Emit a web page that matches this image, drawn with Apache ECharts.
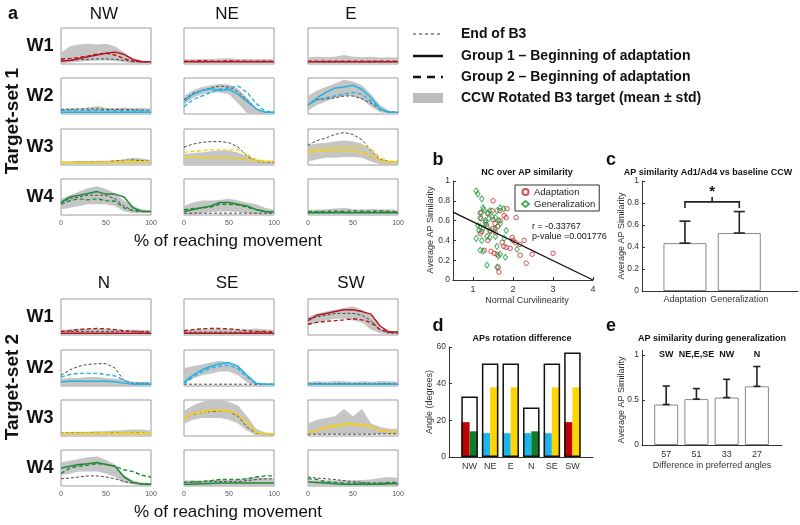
<!DOCTYPE html>
<html lang="en">
<head>
  <meta charset="utf-8">
</head>
<body style="margin: 0; background: #fff">
  <div id="container" style="width: 800px; height: 525px"></div>

  <script type="text/javascript" src="https://cdn.jsdelivr.net/npm/echarts@6/dist/echarts.min.js"></script>

  <script type="text/javascript">
    // ---- panel a: EMG envelopes, % of reaching movement (one row per muscle W1..W4)
    const pct = [0, 10, 20, 30, 40, 50, 60, 70, 80, 90, 100];
    const muscles = ['W1', 'W2', 'W3', 'W4'];
    const set1Dirs = ['NW', 'NE', 'E'];
    const set2Dirs = ['N', 'SE', 'SW'];

    const endB3_NW = [
      [0.10, 0.10, 0.12, 0.13, 0.14, 0.14, 0.13, 0.10, 0.07, 0.06, 0.06],
      [0.13, 0.13, 0.14, 0.14, 0.14, 0.13, 0.13, 0.12, 0.12, 0.11, 0.10],
      [0.07, 0.07, 0.08, 0.08, 0.08, 0.09, 0.11, 0.13, 0.14, 0.12, 0.10],
      [0.35, 0.45, 0.50, 0.55, 0.55, 0.55, 0.45, 0.25, 0.12, 0.10, 0.10]
    ];
    const g1_NW = [
      [0.08, 0.10, 0.15, 0.20, 0.25, 0.30, 0.33, 0.27, 0.12, 0.06, 0.06],
      [0.05, 0.05, 0.05, 0.05, 0.05, 0.05, 0.05, 0.05, 0.05, 0.05, 0.05],
      [0.06, 0.06, 0.06, 0.07, 0.07, 0.07, 0.07, 0.08, 0.08, 0.08, 0.08],
      [0.35, 0.50, 0.55, 0.60, 0.65, 0.58, 0.58, 0.50, 0.20, 0.10, 0.10]
    ];
    const g2_NW = [
      [0.14, 0.15, 0.18, 0.22, 0.27, 0.30, 0.25, 0.15, 0.07, 0.06, 0.06],
      [0.10, 0.10, 0.10, 0.10, 0.10, 0.10, 0.09, 0.09, 0.09, 0.09, 0.09],
      [0.08, 0.08, 0.08, 0.08, 0.08, 0.09, 0.10, 0.11, 0.12, 0.10, 0.09],
      [0.30, 0.40, 0.45, 0.42, 0.45, 0.40, 0.38, 0.20, 0.12, 0.10, 0.10]
    ];
    const lo_NW = [
      [0.02, 0.04, 0.06, 0.08, 0.10, 0.10, 0.08, 0.05, 0.02, 0.02, 0.02],
      [0.02, 0.02, 0.02, 0.02, 0.02, 0.02, 0.02, 0.02, 0.02, 0.02, 0.02],
      [0.02, 0.02, 0.02, 0.02, 0.02, 0.02, 0.03, 0.03, 0.03, 0.03, 0.03],
      [0.15, 0.20, 0.25, 0.30, 0.30, 0.30, 0.25, 0.10, 0.05, 0.05, 0.05]
    ];
    const hi_NW = [
      [0.31, 0.49, 0.54, 0.56, 0.54, 0.56, 0.49, 0.31, 0.17, 0.10, 0.08],
      [0.14, 0.16, 0.15, 0.18, 0.22, 0.17, 0.16, 0.18, 0.16, 0.17, 0.15],
      [0.10, 0.10, 0.11, 0.11, 0.12, 0.12, 0.13, 0.16, 0.20, 0.18, 0.14],
      [0.45, 0.55, 0.65, 0.75, 0.80, 0.72, 0.60, 0.40, 0.25, 0.15, 0.12]
    ];

    const endB3_NE = [
      [0.07, 0.07, 0.07, 0.07, 0.07, 0.07, 0.07, 0.07, 0.07, 0.07, 0.07],
      [0.40, 0.58, 0.65, 0.72, 0.78, 0.75, 0.62, 0.40, 0.15, 0.05, 0.05],
      [0.50, 0.58, 0.63, 0.65, 0.65, 0.62, 0.50, 0.25, 0.10, 0.08, 0.08],
      [0.05, 0.05, 0.05, 0.05, 0.05, 0.05, 0.05, 0.05, 0.05, 0.05, 0.05]
    ];
    const g1_NE = [
      [0.06, 0.06, 0.06, 0.06, 0.06, 0.06, 0.06, 0.06, 0.06, 0.06, 0.06],
      [0.35, 0.55, 0.65, 0.70, 0.65, 0.68, 0.55, 0.35, 0.15, 0.05, 0.05],
      [0.20, 0.22, 0.20, 0.20, 0.20, 0.20, 0.18, 0.15, 0.12, 0.10, 0.10],
      [0.10, 0.15, 0.20, 0.25, 0.35, 0.35, 0.30, 0.25, 0.15, 0.10, 0.08]
    ];
    const g2_NE = [
      [0.08, 0.08, 0.09, 0.08, 0.08, 0.09, 0.08, 0.08, 0.08, 0.08, 0.08],
      [0.20, 0.40, 0.50, 0.60, 0.70, 0.72, 0.78, 0.60, 0.30, 0.08, 0.05],
      [0.35, 0.38, 0.40, 0.42, 0.42, 0.42, 0.42, 0.30, 0.15, 0.10, 0.10],
      [0.15, 0.18, 0.20, 0.22, 0.30, 0.30, 0.28, 0.22, 0.15, 0.10, 0.08]
    ];
    const lo_NE = [
      [0.02, 0.02, 0.02, 0.02, 0.02, 0.02, 0.02, 0.02, 0.02, 0.02, 0.02],
      [0.25, 0.45, 0.55, 0.60, 0.60, 0.55, 0.30, 0.02, 0.00, 0.00, 0.00],
      [0.01, 0.01, 0.01, 0.01, 0.01, 0.01, 0.01, 0.01, 0.01, 0.01, 0.01],
      [0.00, 0.00, 0.05, 0.08, 0.10, 0.10, 0.08, 0.05, 0.02, 0.00, 0.00]
    ];
    const hi_NE = [
      [0.13, 0.13, 0.14, 0.14, 0.15, 0.16, 0.14, 0.14, 0.13, 0.14, 0.13],
      [0.50, 0.65, 0.75, 0.80, 0.83, 0.82, 0.70, 0.45, 0.15, 0.05, 0.05],
      [0.30, 0.33, 0.35, 0.38, 0.40, 0.40, 0.35, 0.25, 0.15, 0.12, 0.12],
      [0.25, 0.35, 0.40, 0.40, 0.42, 0.45, 0.40, 0.35, 0.30, 0.20, 0.15]
    ];

    const endB3_E = [
      [0.06, 0.06, 0.06, 0.06, 0.06, 0.06, 0.06, 0.06, 0.06, 0.06, 0.06],
      [0.25, 0.40, 0.42, 0.45, 0.50, 0.50, 0.42, 0.30, 0.12, 0.05, 0.05],
      [0.55, 0.68, 0.75, 0.85, 0.90, 0.85, 0.70, 0.40, 0.15, 0.10, 0.10],
      [0.08, 0.08, 0.08, 0.08, 0.08, 0.08, 0.08, 0.08, 0.08, 0.08, 0.08]
    ];
    const g1_E = [
      [0.06, 0.06, 0.06, 0.06, 0.06, 0.06, 0.06, 0.06, 0.06, 0.06, 0.06],
      [0.25, 0.45, 0.60, 0.72, 0.75, 0.80, 0.68, 0.45, 0.15, 0.05, 0.05],
      [0.35, 0.38, 0.40, 0.40, 0.42, 0.38, 0.35, 0.25, 0.12, 0.08, 0.08],
      [0.06, 0.06, 0.06, 0.06, 0.06, 0.06, 0.06, 0.06, 0.06, 0.06, 0.06]
    ];
    const g2_E = [
      [0.08, 0.08, 0.08, 0.08, 0.08, 0.08, 0.08, 0.08, 0.08, 0.08, 0.08],
      [0.25, 0.40, 0.45, 0.50, 0.55, 0.60, 0.55, 0.35, 0.12, 0.05, 0.05],
      [0.40, 0.45, 0.48, 0.50, 0.50, 0.50, 0.55, 0.45, 0.20, 0.10, 0.10],
      [0.10, 0.09, 0.10, 0.11, 0.10, 0.12, 0.11, 0.10, 0.12, 0.10, 0.09]
    ];
    const lo_E = [
      [0.02, 0.02, 0.02, 0.02, 0.02, 0.02, 0.02, 0.02, 0.02, 0.02, 0.02],
      [0.10, 0.25, 0.35, 0.45, 0.50, 0.50, 0.40, 0.20, 0.05, 0.02, 0.00],
      [0.10, 0.15, 0.20, 0.20, 0.22, 0.22, 0.20, 0.10, 0.02, 0.00, 0.00],
      [0.02, 0.02, 0.02, 0.02, 0.02, 0.02, 0.02, 0.02, 0.02, 0.02, 0.02]
    ];
    const hi_E = [
      [0.18, 0.20, 0.19, 0.20, 0.25, 0.20, 0.19, 0.20, 0.18, 0.19, 0.18],
      [0.50, 0.65, 0.75, 0.85, 0.95, 0.90, 0.80, 0.55, 0.25, 0.10, 0.05],
      [0.55, 0.60, 0.62, 0.65, 0.68, 0.65, 0.60, 0.40, 0.15, 0.10, 0.10],
      [0.14, 0.15, 0.16, 0.18, 0.20, 0.16, 0.15, 0.17, 0.15, 0.16, 0.14]
    ];

    const endB3_N = [
      [0.10, 0.10, 0.10, 0.10, 0.10, 0.10, 0.10, 0.10, 0.10, 0.10, 0.10],
      [0.30, 0.45, 0.55, 0.60, 0.62, 0.62, 0.50, 0.15, 0.08, 0.08, 0.08],
      [0.08, 0.08, 0.08, 0.08, 0.08, 0.08, 0.08, 0.08, 0.08, 0.08, 0.08],
      [0.20, 0.22, 0.25, 0.28, 0.28, 0.25, 0.20, 0.12, 0.08, 0.06, 0.06]
    ];
    const g1_N = [
      [0.05, 0.05, 0.05, 0.05, 0.05, 0.05, 0.05, 0.05, 0.05, 0.05, 0.05],
      [0.12, 0.13, 0.13, 0.13, 0.13, 0.13, 0.12, 0.08, 0.05, 0.05, 0.05],
      [0.06, 0.06, 0.06, 0.06, 0.06, 0.06, 0.06, 0.06, 0.06, 0.06, 0.06],
      [0.50, 0.55, 0.60, 0.62, 0.65, 0.60, 0.55, 0.25, 0.10, 0.05, 0.05]
    ];
    const g2_N = [
      [0.10, 0.12, 0.15, 0.17, 0.18, 0.17, 0.15, 0.12, 0.10, 0.08, 0.08],
      [0.25, 0.32, 0.35, 0.35, 0.35, 0.32, 0.28, 0.15, 0.08, 0.08, 0.08],
      [0.07, 0.07, 0.08, 0.08, 0.09, 0.09, 0.09, 0.10, 0.10, 0.09, 0.09],
      [0.35, 0.50, 0.55, 0.58, 0.62, 0.60, 0.55, 0.45, 0.40, 0.30, 0.25]
    ];
    const lo_N = [
      [0.02, 0.02, 0.02, 0.02, 0.02, 0.02, 0.02, 0.02, 0.02, 0.02, 0.02],
      [0.00, 0.00, 0.00, 0.00, 0.00, 0.00, 0.00, 0.00, 0.00, 0.00, 0.00],
      [0.02, 0.02, 0.02, 0.02, 0.02, 0.02, 0.02, 0.02, 0.02, 0.02, 0.02],
      [0.30, 0.35, 0.40, 0.40, 0.40, 0.35, 0.25, 0.10, 0.05, 0.02, 0.00]
    ];
    const hi_N = [
      [0.14, 0.16, 0.18, 0.17, 0.18, 0.16, 0.15, 0.14, 0.15, 0.14, 0.13],
      [0.20, 0.22, 0.22, 0.25, 0.25, 0.22, 0.20, 0.15, 0.12, 0.10, 0.10],
      [0.10, 0.11, 0.12, 0.12, 0.13, 0.14, 0.15, 0.16, 0.18, 0.18, 0.15],
      [0.65, 0.70, 0.75, 0.80, 0.82, 0.72, 0.60, 0.30, 0.15, 0.10, 0.08]
    ];

    const endB3_SE = [
      [0.08, 0.08, 0.08, 0.08, 0.08, 0.08, 0.08, 0.08, 0.08, 0.08, 0.08],
      [0.05, 0.05, 0.05, 0.05, 0.05, 0.05, 0.05, 0.05, 0.05, 0.05, 0.05],
      [0.50, 0.60, 0.65, 0.68, 0.70, 0.68, 0.55, 0.25, 0.08, 0.06, 0.06],
      [0.10, 0.10, 0.12, 0.12, 0.12, 0.12, 0.12, 0.15, 0.18, 0.20, 0.20]
    ];
    const g1_SE = [
      [0.05, 0.05, 0.05, 0.05, 0.05, 0.05, 0.05, 0.05, 0.05, 0.05, 0.05],
      [0.10, 0.30, 0.45, 0.55, 0.62, 0.65, 0.55, 0.30, 0.08, 0.05, 0.05],
      [0.50, 0.62, 0.68, 0.72, 0.72, 0.70, 0.60, 0.35, 0.10, 0.06, 0.06],
      [0.05, 0.05, 0.06, 0.07, 0.08, 0.08, 0.08, 0.08, 0.08, 0.08, 0.08]
    ];
    const g2_SE = [
      [0.12, 0.15, 0.17, 0.18, 0.18, 0.17, 0.15, 0.12, 0.10, 0.10, 0.08],
      [0.05, 0.25, 0.40, 0.50, 0.55, 0.58, 0.48, 0.25, 0.07, 0.05, 0.05],
      [0.50, 0.60, 0.65, 0.70, 0.70, 0.68, 0.60, 0.35, 0.10, 0.06, 0.06],
      [0.10, 0.12, 0.12, 0.15, 0.18, 0.18, 0.18, 0.20, 0.25, 0.28, 0.28]
    ];
    const lo_SE = [
      [0.02, 0.02, 0.02, 0.02, 0.02, 0.02, 0.02, 0.02, 0.02, 0.02, 0.02],
      [0.10, 0.20, 0.30, 0.35, 0.40, 0.40, 0.30, 0.10, 0.02, 0.00, 0.00],
      [0.35, 0.45, 0.50, 0.50, 0.50, 0.45, 0.35, 0.15, 0.02, 0.00, 0.00],
      [0.00, 0.00, 0.00, 0.00, 0.00, 0.00, 0.00, 0.00, 0.00, 0.00, 0.00]
    ];
    const hi_SE = [
      [0.14, 0.15, 0.15, 0.16, 0.17, 0.16, 0.15, 0.16, 0.18, 0.16, 0.14],
      [0.50, 0.55, 0.60, 0.65, 0.70, 0.65, 0.55, 0.30, 0.10, 0.05, 0.05],
      [0.70, 0.85, 0.95, 1.00, 1.00, 0.95, 0.85, 0.55, 0.20, 0.10, 0.08],
      [0.15, 0.16, 0.15, 0.17, 0.18, 0.17, 0.18, 0.22, 0.25, 0.22, 0.20]
    ];

    const endB3_SW = [
      [0.45, 0.50, 0.55, 0.60, 0.60, 0.60, 0.55, 0.40, 0.15, 0.05, 0.05],
      [0.07, 0.07, 0.07, 0.07, 0.07, 0.07, 0.07, 0.07, 0.07, 0.07, 0.07],
      [0.05, 0.05, 0.05, 0.05, 0.05, 0.05, 0.05, 0.05, 0.06, 0.06, 0.06],
      [0.25, 0.22, 0.20, 0.18, 0.15, 0.12, 0.10, 0.08, 0.08, 0.08, 0.08]
    ];
    const g1_SW = [
      [0.40, 0.55, 0.60, 0.65, 0.70, 0.70, 0.65, 0.58, 0.25, 0.08, 0.08],
      [0.05, 0.05, 0.05, 0.05, 0.05, 0.05, 0.05, 0.05, 0.05, 0.05, 0.05],
      [0.10, 0.15, 0.25, 0.30, 0.35, 0.35, 0.30, 0.28, 0.15, 0.12, 0.12],
      [0.12, 0.10, 0.08, 0.06, 0.05, 0.05, 0.05, 0.05, 0.05, 0.06, 0.06]
    ];
    const g2_SW = [
      [0.30, 0.35, 0.38, 0.40, 0.42, 0.45, 0.42, 0.35, 0.15, 0.08, 0.08],
      [0.06, 0.06, 0.06, 0.06, 0.06, 0.06, 0.06, 0.06, 0.06, 0.06, 0.06],
      [0.10, 0.15, 0.22, 0.25, 0.28, 0.30, 0.28, 0.25, 0.15, 0.12, 0.12],
      [0.20, 0.18, 0.12, 0.10, 0.08, 0.08, 0.08, 0.08, 0.08, 0.10, 0.10]
    ];
    const lo_SW = [
      [0.25, 0.35, 0.40, 0.45, 0.45, 0.40, 0.35, 0.15, 0.05, 0.02, 0.02],
      [0.02, 0.02, 0.02, 0.02, 0.02, 0.02, 0.02, 0.02, 0.02, 0.02, 0.02],
      [0.05, 0.05, 0.05, 0.05, 0.05, 0.05, 0.05, 0.05, 0.05, 0.05, 0.05],
      [0.00, 0.00, 0.00, 0.00, 0.00, 0.00, 0.00, 0.00, 0.00, 0.00, 0.00]
    ];
    const hi_SW = [
      [0.50, 0.60, 0.65, 0.70, 0.75, 0.80, 0.70, 0.55, 0.20, 0.10, 0.08],
      [0.12, 0.13, 0.12, 0.14, 0.13, 0.12, 0.13, 0.12, 0.14, 0.13, 0.12],
      [0.35, 0.45, 0.50, 0.55, 0.75, 0.55, 0.75, 0.35, 0.25, 0.20, 0.20],
      [0.16, 0.15, 0.15, 0.16, 0.15, 0.16, 0.17, 0.18, 0.22, 0.25, 0.22]
    ];

    // ---- panel b: NC vs AP similarity
    const adaptPts = [
      [1.50, 0.80], [1.85, 0.72], [1.78, 0.65], [1.83, 0.63], [2.08, 0.63], [1.48, 0.70],
      [1.67, 0.70], [1.37, 0.67], [1.18, 0.68], [1.20, 0.62], [1.50, 0.61], [1.55, 0.57],
      [1.62, 0.54], [1.50, 0.52], [1.43, 0.49], [1.56, 0.48], [1.22, 0.49], [1.18, 0.47],
      [1.98, 0.43], [2.00, 0.40], [2.06, 0.38], [1.83, 0.33], [1.93, 0.32], [2.17, 0.36],
      [2.28, 0.40], [2.18, 0.25], [2.33, 0.17], [2.48, 0.26], [3.00, 0.27], [1.37, 0.40],
      [1.28, 0.30], [1.45, 0.29], [1.53, 0.27], [1.60, 0.26], [1.63, 0.13], [1.65, 0.08],
      [1.73, 0.38], [1.77, 0.34], [1.33, 0.56], [1.68, 0.60]
    ];
    const genPts = [
      [1.08, 0.90], [1.12, 0.87], [1.22, 0.82], [1.25, 0.73], [1.27, 0.71], [1.21, 0.68],
      [1.37, 0.68], [1.42, 0.70], [1.60, 0.70], [1.68, 0.73], [1.77, 0.72], [1.18, 0.63],
      [1.31, 0.60], [1.39, 0.62], [1.56, 0.63], [1.64, 0.60], [1.48, 0.64], [1.12, 0.55],
      [1.18, 0.54], [1.25, 0.52], [1.35, 0.54], [1.43, 0.50], [1.56, 0.52], [1.68, 0.57],
      [1.83, 0.50], [1.08, 0.42], [1.22, 0.40], [1.35, 0.44], [1.42, 0.43], [1.60, 0.34],
      [1.78, 0.42], [1.18, 0.30], [1.25, 0.29], [1.63, 0.24], [1.68, 0.26], [1.81, 0.23],
      [1.35, 0.15], [1.60, 0.13], [2.10, 0.31], [1.31, 0.58], [1.15, 0.50], [1.56, 0.44]
    ];
    const regLine = [[0.5, 0.685], [4, 0.0]];
    const statLines = ['r = -0.33767', 'p-value =0.001776'];

    // ---- panel c
    const cCats = ['Adaptation', 'Generalization'];
    const cMean = [0.435, 0.527];
    const cUpper = [0.635, 0.722];
    const cSig = [1, 2, 0.81];

    // ---- panel d
    const dCats = ['NW', 'NE', 'E', 'N', 'SE', 'SW'];
    const dTotal = [33, 51, 51, 27, 51, 57];
    const dLeft = [19, 13, 13, 13, 13, 19];
    const dRight = [14, 38, 38, 14, 38, 38];
    const dLeftMuscle = ['W1', 'W2', 'W2', 'W2', 'W2', 'W1'];
    const dRightMuscle = ['W4', 'W3', 'W3', 'W4', 'W3', 'W3'];

    // ---- panel e
    const eCats = ['57', '51', '33', '27'];
    const eGroups = ['SW', 'NE,E,SE', 'NW', 'N'];
    const eMean = [0.45, 0.51, 0.527, 0.652];
    const eUpper = [0.655, 0.627, 0.73, 0.872];

    // ---------------------------------------------------------------
    const FONT = '"Liberation Sans", Arial, sans-serif';
    const muscleColor = { W1: '#b7141d', W2: '#22b2e4', W3: '#f3cf22', W4: '#1e8a36' };
    const dBarColor = { W1: '#c00000', W2: '#1bb6ec', W3: '#ffd500', W4: '#137a2c' };
    const AX = '#333';

    const setData = {
      NW: [endB3_NW, g1_NW, g2_NW, lo_NW, hi_NW],
      NE: [endB3_NE, g1_NE, g2_NE, lo_NE, hi_NE],
      E: [endB3_E, g1_E, g2_E, lo_E, hi_E],
      N: [endB3_N, g1_N, g2_N, lo_N, hi_N],
      SE: [endB3_SE, g1_SE, g2_SE, lo_SE, hi_SE],
      SW: [endB3_SW, g1_SW, g2_SW, lo_SW, hi_SW]
    };

    const colLeft = [61, 184, 308];
    const panelW = 90, panelH = 36;
    const setTops = [[28, 78, 129, 179], [299, 350, 400, 450]];

    const grids = [], xAxes = [], yAxes = [], series = [], graphics = [];

    function txt(x, y, text, size, opts) {
      graphics.push(Object.assign({
        type: 'text', x: x, y: y, silent: true,
        style: Object.assign({
          text: text, fontFamily: FONT, fontSize: size, fill: '#111',
          align: 'center', verticalAlign: 'middle'
        }, (opts && opts.style) || {})
      }, (opts && opts.el) || {}));
    }

    [set1Dirs, set2Dirs].forEach(function (dirs, s) {
      dirs.forEach(function (dir, c) {
        const d = setData[dir];
        muscles.forEach(function (m, r) {
          const gi = grids.length;
          grids.push({
            left: colLeft[c], top: setTops[s][r], width: panelW, height: panelH,
            show: true, borderColor: '#9c9c9c', borderWidth: 1, backgroundColor: '#fff'
          });
          xAxes.push({
            gridIndex: gi, type: 'category', data: pct.map(String), boundaryGap: false,
            axisLine: { show: false }, axisTick: { show: false }, splitLine: { show: false },
            axisLabel: {
              show: r === 3, interval: function (i) { return i % 5 === 0; },
              fontSize: 7, color: '#555', margin: 5, fontFamily: FONT
            }
          });
          yAxes.push({ gridIndex: gi, type: 'value', min: 0, max: 1, show: false });
          const col = muscleColor[m];
          const base = { type: 'line', xAxisIndex: gi, yAxisIndex: gi, symbol: 'none', silent: true };
          series.push(Object.assign({}, base, {
            stack: 'band' + gi, data: d[3][r], lineStyle: { opacity: 0 }
          }));
          series.push(Object.assign({}, base, {
            stack: 'band' + gi, data: d[4][r].map(function (v, k) { return v - d[3][r][k]; }),
            lineStyle: { opacity: 0 }, areaStyle: { color: '#c5c5c5', opacity: 1 }
          }));
          series.push(Object.assign({}, base, {
            data: d[0][r], lineStyle: { color: '#4a4a4a', width: 1, type: [3, 2] }
          }));
          series.push(Object.assign({}, base, {
            data: d[2][r], lineStyle: { color: col, width: 1.4, type: [4, 2.5] }
          }));
          series.push(Object.assign({}, base, {
            data: d[1][r], lineStyle: { color: col, width: 1.5 }
          }));
          if (c === 0) txt(40, setTops[s][r] + panelH / 2, m, 18, { style: { fontWeight: 'bold' } });
        });
        txt(colLeft[c] + panelW / 2 - 2, s === 0 ? 14 : 283, dir, 17);
      });
      txt(228, s === 0 ? 241 : 512, '% of reaching movement', 17);
      txt(13, s === 0 ? 121 : 387, 'Target-set ' + (s + 1), 19,
        { style: { fontWeight: 'bold' }, el: { rotation: Math.PI / 2 } });
    });

    // shared axis styling for b-e
    function valAxis(gi, extra) {
      return Object.assign({
        gridIndex: gi, type: 'value',
        axisLine: { show: true, lineStyle: { color: AX, width: 1 } },
        axisTick: { show: true, inside: true, length: 3, lineStyle: { color: AX } },
        axisLabel: { fontSize: 8.5, color: '#333', fontFamily: FONT, margin: 3 },
        splitLine: { show: false }
      }, extra);
    }

    function errRender(cap) {
      return function (params, api) {
        const x = api.value(0);
        const p0 = api.coord([x, api.value(1)]);
        const p1 = api.coord([x, api.value(2)]);
        const st = { stroke: '#222', lineWidth: 1.6 };
        return {
          type: 'group', children: [
            { type: 'line', shape: { x1: p0[0], y1: p0[1], x2: p1[0], y2: p1[1] }, style: st },
            { type: 'line', shape: { x1: p1[0] - cap, y1: p1[1], x2: p1[0] + cap, y2: p1[1] }, style: st },
            { type: 'line', shape: { x1: p0[0] - cap, y1: p0[1], x2: p0[0] + cap, y2: p0[1] }, style: st }
          ]
        };
      };
    }

    // ---- b
    const gb = grids.length;
    grids.push({ left: 453, top: 181, width: 140, height: 99 });
    xAxes.push(valAxis(gb, {
      min: 0.5, max: 4,
      axisLabel: { fontSize: 9, color: '#333', fontFamily: FONT, margin: 5, customValues: [1, 2, 3, 4] },
      axisTick: { show: true, inside: true, length: 3, lineStyle: { color: AX }, customValues: [1, 2, 3, 4] }
    }));
    yAxes.push(valAxis(gb, { min: 0, max: 1, interval: 0.2 }));
    series.push({
      name: 'Adaptation', type: 'scatter', xAxisIndex: gb, yAxisIndex: gb, data: adaptPts,
      symbol: 'circle', symbolSize: 4.5,
      itemStyle: { color: 'rgba(0,0,0,0)', borderColor: '#c8262c', borderWidth: 1 }
    });
    series.push({
      name: 'Generalization', type: 'scatter', xAxisIndex: gb, yAxisIndex: gb, data: genPts,
      symbol: 'diamond', symbolSize: [4.5, 6],
      itemStyle: { color: 'rgba(0,0,0,0)', borderColor: '#1f9a3c', borderWidth: 1 }
    });
    series.push({
      type: 'line', xAxisIndex: gb, yAxisIndex: gb, data: regLine, symbol: 'none',
      lineStyle: { color: '#111', width: 1.3 }, silent: true
    });
    txt(527, 173, 'NC over AP similarity', 9, { style: { fontWeight: 'bold' } });
    txt(527, 301, 'Normal Curvilinearity', 9, { style: { fill: '#333' } });
    txt(431, 230, 'Average AP Similarity', 9, { style: { fill: '#333' }, el: { rotation: Math.PI / 2 } });
    txt(532, 227, statLines[0], 9, { style: { align: 'left' } });
    txt(532, 237, statLines[1], 9, { style: { align: 'left' } });

    // ---- c
    const gc = grids.length;
    grids.push({ left: 642, top: 181, width: 156, height: 110 });
    xAxes.push(valAxis(gc, {
      min: 0.21, max: 3.08,
      axisTick: { show: false },
      axisLabel: {
        fontSize: 9, color: '#333', fontFamily: FONT, margin: 4, customValues: [1, 2],
        formatter: function (v) { return cCats[Math.round(v) - 1]; }
      }
    }));
    yAxes.push(valAxis(gc, { min: 0, max: 1, interval: 0.2 }));
    series.push({
      type: 'bar', xAxisIndex: gc, yAxisIndex: gc, barWidth: 43, silent: true,
      data: cMean.map(function (v, i) { return [i + 1, v]; }),
      itemStyle: { color: '#fff', borderColor: '#888', borderWidth: 1 }
    });
    series.push({
      type: 'custom', xAxisIndex: gc, yAxisIndex: gc, silent: true, z: 5,
      data: cMean.map(function (v, i) { return [i + 1, v, cUpper[i]]; }),
      renderItem: errRender(5.5)
    });
    series.push({
      type: 'custom', xAxisIndex: gc, yAxisIndex: gc, silent: true, z: 5,
      data: [cSig],
      renderItem: function (params, api) {
        const a = api.coord([api.value(0), api.value(2)]);
        const b = api.coord([api.value(1), api.value(2)]);
        const a2 = api.coord([api.value(0), api.value(2) - 0.055]);
        const mid = (a[0] + b[0]) / 2;
        const st = { stroke: '#222', lineWidth: 1.6 };
        return {
          type: 'group', children: [
            { type: 'polyline', shape: { points: [[a[0], a2[1]], a, b, [b[0], a2[1]]] }, style: Object.assign({ fill: null }, st) },
            { type: 'line', shape: { x1: mid, y1: a[1], x2: mid, y2: a[1] - 5 }, style: st },
            { type: 'text', x: mid, y: a[1] - 10, style: { text: '*', fontSize: 15, fontWeight: 'bold', fontFamily: FONT, fill: '#111', align: 'center', verticalAlign: 'middle' } }
          ]
        };
      }
    });
    txt(708, 173, 'AP similarity Ad1/Ad4 vs baseline CCW', 9, { style: { fontWeight: 'bold' } });
    txt(622, 236, 'Average AP Similarity', 9, { style: { fill: '#333' }, el: { rotation: Math.PI / 2 } });

    // ---- d
    const gd = grids.length;
    grids.push({ left: 449, top: 347, width: 144, height: 110 });
    xAxes.push(valAxis(gd, {
      min: 0, max: 7,
      axisTick: { show: false },
      axisLabel: {
        fontSize: 9, color: '#333', fontFamily: FONT, margin: 5, customValues: [1, 2, 3, 4, 5, 6],
        formatter: function (v) { return dCats[Math.round(v) - 1]; }
      }
    }));
    xAxes.push({ gridIndex: gd, type: 'value', min: 0, max: 7, show: false });
    yAxes.push(valAxis(gd, { min: 0, max: 60, interval: 20 }));
    series.push({
      type: 'bar', xAxisIndex: gd, yAxisIndex: gd, barWidth: 8.25, barGap: '0%', silent: true,
      data: dLeft.map(function (v, i) { return { value: [i + 1, v], itemStyle: { color: dBarColor[dLeftMuscle[i]] } }; })
    });
    series.push({
      type: 'bar', xAxisIndex: gd, yAxisIndex: gd, barWidth: 8.25, barGap: '0%', silent: true,
      data: dRight.map(function (v, i) { return { value: [i + 1, v], itemStyle: { color: dBarColor[dRightMuscle[i]] } }; })
    });
    series.push({
      type: 'bar', xAxisIndex: gd + 1, yAxisIndex: gd, barWidth: 16.5, silent: true, z: 4,
      data: dTotal.map(function (v, i) { return [i + 1, v]; }),
      itemStyle: { color: 'rgba(0,0,0,0)', borderColor: '#111', borderWidth: 1.5 }
    });
    txt(522, 339, 'APs rotation difference', 9, { style: { fontWeight: 'bold' } });
    txt(430, 402, 'Angle (degrees)', 9, { style: { fill: '#333' }, el: { rotation: Math.PI / 2 } });

    // ---- e
    const ge = xAxes.length;
    grids.push({ left: 642, top: 350.5, width: 140, height: 94.5 });
    xAxes.push(valAxis(grids.length - 1, {
      min: 0.2, max: 4.83,
      axisTick: { show: false },
      axisLabel: {
        fontSize: 9, color: '#333', fontFamily: FONT, margin: 5, customValues: [1, 2, 3, 4],
        formatter: function (v) { return eCats[Math.round(v) - 1]; }
      }
    }));
    const gey = yAxes.length;
    yAxes.push(valAxis(grids.length - 1, {
      min: 0, max: 1.05,
      axisLabel: { fontSize: 8.5, color: '#333', fontFamily: FONT, margin: 3, customValues: [0, 0.5, 1] },
      axisTick: { show: true, inside: true, length: 3, lineStyle: { color: AX }, customValues: [0, 0.5, 1] }
    }));
    series.push({
      type: 'bar', xAxisIndex: ge, yAxisIndex: gey, barWidth: 24, silent: true,
      data: eMean.map(function (v, i) { return [i + 1, v]; }),
      itemStyle: { color: '#fff', borderColor: '#888', borderWidth: 1 }
    });
    series.push({
      type: 'custom', xAxisIndex: ge, yAxisIndex: gey, silent: true, z: 5,
      data: eMean.map(function (v, i) { return [i + 1, v, eUpper[i]]; }),
      renderItem: errRender(3.5)
    });
    series.push({
      type: 'custom', xAxisIndex: ge, yAxisIndex: gey, silent: true, z: 5,
      data: eGroups.map(function (g, i) { return [i + 1, 1.0, g]; }),
      renderItem: function (params, api) {
        const p = api.coord([api.value(0), api.value(1)]);
        return {
          type: 'text', x: p[0], y: p[1],
          style: { text: eGroups[params.dataIndex], fontSize: 9, fontWeight: 'bold', fontFamily: FONT, fill: '#111', align: 'center', verticalAlign: 'middle' }
        };
      }
    });
    txt(712, 339, 'AP similarity during generalization', 9, { style: { fontWeight: 'bold' } });
    txt(712, 466, 'Difference in preferred angles', 9, { style: { fill: '#333' } });
    txt(622, 400, 'Average AP Similarity', 9, { style: { fill: '#333' }, el: { rotation: Math.PI / 2 } });

    // ---- panel letters
    txt(13, 14, 'a', 18, { style: { fontWeight: 'bold' } });
    txt(438, 160, 'b', 18, { style: { fontWeight: 'bold' } });
    txt(611, 160, 'c', 18, { style: { fontWeight: 'bold' } });
    txt(438, 326, 'd', 18, { style: { fontWeight: 'bold' } });
    txt(611, 326, 'e', 18, { style: { fontWeight: 'bold' } });

    // ---- legend of panel a
    const legY = [34, 56, 77, 98];
    const legText = ['End of B3', 'Group 1 \u2013 Beginning of adaptation', 'Group 2 \u2013 Beginning of adaptation', 'CCW Rotated B3 target (mean \u00b1 std)'];
    graphics.push({ type: 'line', silent: true, shape: { x1: 413, y1: legY[0], x2: 443, y2: legY[0] }, style: { stroke: '#333', lineWidth: 1, lineDash: [3, 3] } });
    graphics.push({ type: 'line', silent: true, shape: { x1: 413, y1: legY[1], x2: 443, y2: legY[1] }, style: { stroke: '#111', lineWidth: 2.5 } });
    graphics.push({ type: 'line', silent: true, shape: { x1: 413, y1: legY[2], x2: 443, y2: legY[2] }, style: { stroke: '#111', lineWidth: 2.5, lineDash: [8, 6] } });
    graphics.push({ type: 'rect', silent: true, shape: { x: 413, y: legY[3] - 5, width: 30, height: 10 }, style: { fill: '#bdbdbd' } });
    legText.forEach(function (t, i) {
      txt(461, legY[i], t, 14, { style: { fontWeight: 'bold', align: 'left' } });
    });

    var dom = document.getElementById('container');
    var myChart = echarts.init(dom, null, { renderer: 'canvas' });
    myChart.setOption({
      animation: false,
      backgroundColor: '#fff',
      textStyle: { fontFamily: FONT },
      grid: grids,
      xAxis: xAxes,
      yAxis: yAxes,
      legend: {
        data: ['Adaptation', 'Generalization'], orient: 'vertical', left: 515, top: 185,
        padding: [2, 4, 2, 6], itemGap: 2, itemWidth: 7, itemHeight: 6,
        borderColor: '#333', borderWidth: 1, backgroundColor: '#fff',
        textStyle: { fontSize: 9.5, color: '#222', fontFamily: FONT }
      },
      series: series,
      graphic: graphics
    });
  </script>
</body>
</html>
